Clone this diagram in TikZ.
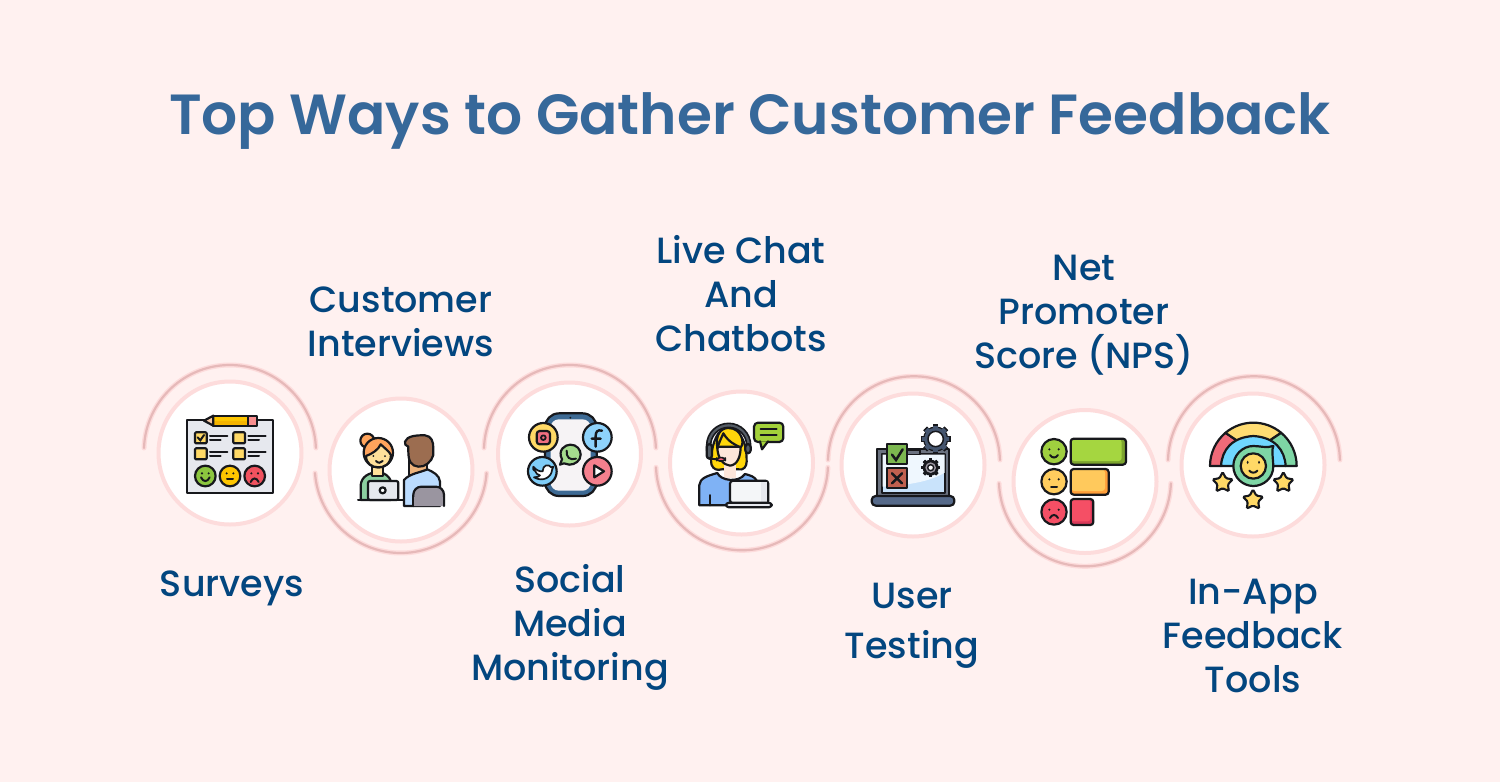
\documentclass[tikz,border=0pt]{standalone}
\usepackage{fontspec}
\setmainfont{Poppins Medium}
\newfontfamily\titlefont{Poppins SemiBold}
\usetikzlibrary{shapes.geometric}
\definecolor{bgc}{HTML}{FFF1F0}
\definecolor{titlec}{HTML}{36689A}
\definecolor{labelc}{HTML}{03467F}
\definecolor{ringc}{HTML}{FDDCDC}
\definecolor{arcc}{HTML}{E6B9B9}
\definecolor{ink}{HTML}{17181C}
\definecolor{E6}{HTML}{E6E8EE}
\definecolor{yel}{HTML}{FDC500}
\definecolor{yelD}{HTML}{F5B400}
\definecolor{yelL}{HTML}{FFD966}
\definecolor{pin}{HTML}{F98F8F}
\definecolor{skn}{HTML}{F6C9A8}
\definecolor{gre}{HTML}{8CC63F}
\definecolor{red}{HTML}{F0525F}
\definecolor{org}{HTML}{FFA45C}
\definecolor{teal}{HTML}{8CCFA0}
\definecolor{skn2}{HTML}{FFE09A}
\definecolor{sknM}{HTML}{EDB37C}
\definecolor{blu}{HTML}{BBDCFF}
\definecolor{bro}{HTML}{9C6D50}
\definecolor{gry}{HTML}{9A95A0}
\definecolor{phn}{HTML}{3D6A94}
\definecolor{scr}{HTML}{F6F3F5}
\definecolor{pnk2}{HTML}{F06F80}
\definecolor{sky}{HTML}{8ED2FB}
\definecolor{sky2}{HTML}{7FCDF8}
\definecolor{rd2}{HTML}{F5808E}
\definecolor{wag}{HTML}{A5DC8E}
\definecolor{hair}{HTML}{FFD60A}
\definecolor{fce}{HTML}{FDE6DA}
\definecolor{hset}{HTML}{555D66}
\definecolor{micc}{HTML}{F0607A}
\definecolor{blo}{HTML}{7FB2F5}
\definecolor{scr2}{HTML}{F4F6F8}
\definecolor{lim}{HTML}{A3D13A}
\definecolor{lap}{HTML}{6B7280}
\definecolor{scrb}{HTML}{C9E3FB}
\definecolor{navy}{HTML}{566A8A}
\definecolor{chk}{HTML}{7CB850}
\definecolor{xbx}{HTML}{C0604F}
\definecolor{nG}{HTML}{9FCF3F}
\definecolor{nG2}{HTML}{A5D640}
\definecolor{nGd}{HTML}{7DA52F}
\definecolor{nY}{HTML}{FFCD5E}
\definecolor{nY2}{HTML}{FFC95C}
\definecolor{nYd}{HTML}{FF9F3A}
\definecolor{nR}{HTML}{F54F65}
\definecolor{nRd}{HTML}{D93A5A}
\definecolor{rbR}{HTML}{F06A78}
\definecolor{rbY}{HTML}{FFDC72}
\definecolor{rbG}{HTML}{7ED6A5}
\definecolor{rbB}{HTML}{6FD6FF}
\tikzset{
 x=1pt,y=-1pt,
 disc/.style={circle,draw=ringc,line width=4pt,fill=white,minimum size=143pt,inner sep=0pt},
 lab/.style={font=\fontsize{36.5}{44}\selectfont,text=labelc,align=center,inner sep=0pt},
 zoomed/.style={x=0.33333pt,y=-0.33333pt},
 o/.style={draw=ink,line width=2.2pt,line join=round,line cap=round},
 l/.style={draw=ink,line width=2pt,line cap=round},
 starn/.style={star,star points=5,star point ratio=1.9,draw=ink,line width=2.1pt,fill=#1,minimum size=21pt,inner sep=0pt,rounded corners=1.2pt},
}
\newcommand{\archalo}[1]{\draw[ringc,line width=5pt,line cap=round] #1; \draw[arcc,line width=2.2pt,line cap=round] #1;}
\newcommand{\gearshape}[4]{% x y r fill
 \foreach \a in {0,45,...,315}{\fill[#4,rotate around={\a:(#1,#2)}] (#1-0.2*#3,#2-1.18*#3) rectangle (#1+0.2*#3,#2+1.18*#3);}
 \fill[#4] (#1,#2) circle[radius=#3];
}
\begin{document}
\begin{tikzpicture}
\useasboundingbox (0,0) rectangle (1500,782);
\fill[bgc] (0,0) rectangle (1500,782);
\node[font=\titlefont\fontsize{56.6}{60}\selectfont,text=titlec,inner sep=0pt] (title) at (750,121) {Top Ways to Gather Customer Feedback};
% arcs
\archalo{(144,448) arc[start angle=178,end angle=2,radius=86pt]}
\archalo{(315,473) arc[start angle=184,end angle=356,radius=86pt]}
\archalo{(484,448) arc[start angle=178,end angle=2,radius=86pt]}
\archalo{(656,467.3) arc[start angle=182,end angle=358,radius=86pt]}
\archalo{(828,460) arc[start angle=178.5,end angle=1.5,radius=86pt]}
\archalo{(999,483.3) arc[start angle=182,end angle=358,radius=86pt]}
\archalo{(1168,460) arc[start angle=178.5,end angle=1.5,radius=86pt]}
% discs
\node[disc] (d1) at (230,453) {};
\node[disc] (d2) at (401,470) {};
\node[disc] (d3) at (569.5,454) {};
\node[disc] (d4) at (741.5,463) {};
\node[disc] (d5) at (913,465) {};
\node[disc] (d6) at (1085,481.5) {};
\node[disc] (d7) at (1253,465) {};
% labels
\node[lab] (l1) at (232,588) {Surveys};
\node[lab] (l2) at (401,322) {Customer\\Interviews};
\node[lab] (l3) at (570,627) {Social\\Media\\Monitoring};
\node[lab] (l4) at (741,294) {Live Chat\\And\\Chatbots};
\node[lab,font=\fontsize{36.5}{50}\selectfont] (l5) at (912,626) {User\\Testing};
\node[lab] (l6) at (1084,315) {Net\\Promoter\\Score (NPS)};
\node[lab] (l7) at (1253,636) {In-App\\Feedback\\Tools};
% ---------- icon 1, icon 2
\begin{scope}[shift={(130,350)},zoomed]
 \draw[o,fill=E6] (172,210) rectangle (430,430);
 \draw[o,fill=yel] (250,197) rectangle (358,227);
 \fill[yelD] (250,213) rectangle (358,227);
 \draw[o] (250,197) -- (358,197) -- (358,227) -- (250,227);
 \draw[o,fill=pin] (355,197) -- (382,197) -- (382,227) -- (355,227) -- cycle;
 \draw[o,fill=skn] (250,197) -- (222,212) -- (250,227) -- cycle;
 \foreach \x/\y in {195/247,310/247,195/295,310/295}{
   \draw[o,fill=yelL,rounded corners=1pt] (\x,\y) rectangle (\x+35,\y+33);
   \draw[l] (\x+45,\y+10) -- (\x+97,\y+10);
   \draw[l] (\x+45,\y+24) -- (\x+77,\y+24);
 }
 \draw[l] (203,262) -- (211,271) -- (222,255);
 \draw[o,fill=gre] (226,378) circle[radius=31];
 \draw[o,fill=yel] (300,378) circle[radius=31];
 \draw[o,fill=red] (374,378) circle[radius=31];
 \fill[ink] (216,370) circle[radius=3.5] (236,370) circle[radius=3.5] (290,370) circle[radius=3.5] (310,370) circle[radius=3.5] (364,370) circle[radius=3.5] (384,370) circle[radius=3.5];
 \draw[l] (213,382) .. controls (220,397) and (232,397) .. (239,382);
 \draw[l] (291,388) -- (309,388);
 \draw[l] (362,396) .. controls (368,382) and (380,382) .. (386,396);
 % interview
 \draw[o,fill=org] (712,272) circle[radius=21];
 \draw[o,fill=teal] (692,450) -- (692,405) .. controls (695,380) and (715,368) .. (745,366) .. controls (765,368) and (778,380) .. (782,392) -- (782,450) -- cycle;
 \draw[o,fill=skn2] (727,350) rectangle (760,378);
 \draw[o,fill=org] (745,308) circle[radius=44];
 \draw[o,fill=skn2] (708,318) .. controls (725,312) and (745,300) .. (752,283) .. controls (765,295) and (778,305) .. (783,315) .. controls (782,345) and (760,352) .. (745,352) .. controls (725,352) and (708,340) .. (708,318) -- cycle;
 \fill[ink] (730,318) circle[radius=3] (765,318) circle[radius=3];
 \draw[l] (738,333) .. controls (745,340) and (752,340) .. (758,333);
 \draw[o,fill=E6,rounded corners=2pt] (714,393) rectangle (805,450);
 \draw[o,fill=white] (758,421) circle[radius=9];
 \draw[l] (684,451) -- (820,451);
 \draw[o,fill=sknM] (838,320) rectangle (892,375);
 \draw[o,fill=blu] (822,468) -- (822,390) .. controls (840,370) and (870,368) .. (892,358) .. controls (910,366) and (928,375) .. (930,395) -- (930,468) -- cycle;
 \draw[o,fill=bro] (825,275) .. controls (830,258) and (860,255) .. (885,256) .. controls (905,258) and (910,275) .. (910,295) -- (910,315) .. controls (905,335) and (885,352) .. (865,350) .. controls (845,348) and (835,335) .. (835,305) -- (835,290) .. controls (827,288) and (823,282) .. (825,275) -- cycle;
 \draw[o,fill=gry,rounded corners=8pt] (850,468) -- (850,410) -- (942,410) -- (942,468);
 \fill[gry] (852,440) rectangle (940,468);
\end{scope}
% ---------- icon 3, icon 4
\begin{scope}[shift={(480,350)},zoomed]
 \draw[o,fill=phn,rounded corners=14pt] (195,190) rectangle (350,438);
 \fill[scr,rounded corners=8pt] (212,208) rectangle (332,422);
 \fill[ink] (271,203) circle[radius=3];
 \draw[o,fill=yelL] (190,262) circle[radius=43];
 \draw[o,fill=pnk2,rounded corners=3pt] (170,243) rectangle (210,283);
 \draw[o,line width=1.8pt] (190,263) circle[radius=7];
 \draw[o,fill=sky] (352,262) circle[radius=43];
 \draw[ink,line width=2.4pt,line cap=round] (366,242) .. controls (352,238) and (347,246) .. (347,258) -- (347,290) (335,266) -- (362,266);
 \draw[o,fill=sky2] (187,364) circle[radius=43];
 \draw[o,fill=white,line width=1.7pt] (160,350) .. controls (170,362) and (180,365) .. (188,364) .. controls (188,345) and (205,340) .. (214,352) -- (220,350) -- (216,360) .. controls (215,380) and (190,398) .. (162,382) .. controls (172,382) and (176,380) .. (180,376) .. controls (172,374) and (168,370) .. (166,364) .. controls (160,362) and (158,356) .. (160,350) -- cycle;
 \draw[o,fill=rd2] (352,364) circle[radius=43];
 \draw[o,fill=white] (343,346) -- (372,364) -- (343,382) -- cycle;
 \draw[o,fill=wag] (240,344) -- (246,328) .. controls (232,300) and (255,284) .. (271,284) .. controls (290,284) and (302,298) .. (302,314) .. controls (302,332) and (285,344) .. (268,344) .. controls (262,344) and (258,340) .. (252,340) -- cycle;
 \draw[l] (260,302) .. controls (258,322) and (270,332) .. (288,326);
 % agent
 \draw[o,fill=hair] (715,250) .. controls (695,280) and (690,330) .. (695,345) .. controls (700,358) and (712,362) .. (725,358) -- (775,358) .. controls (790,362) and (800,350) .. (800,335) .. controls (800,300) and (795,270) .. (775,250) -- cycle;
 \fill[fce] (733,335) rectangle (767,385);
 \draw[o,fill=blo] (658,466) -- (658,405) .. controls (660,385) and (680,378) .. (712,369) .. controls (722,392) and (775,400) .. (795,372) .. controls (810,376) and (825,380) .. (830,392) -- (830,466) -- cycle;
 \draw[l] (690,466) -- (690,435);
 \draw[o,fill=fce] (712,290) .. controls (712,325) and (730,345) .. (750,347) .. controls (772,345) and (782,320) .. (782,290) -- cycle;
 \draw[o,fill=hair] (712,295) .. controls (718,275) and (725,262) .. (730,250) .. controls (745,275) and (765,285) .. (782,292) .. controls (795,280) and (785,234) .. (745,234) .. controls (722,234) and (705,255) .. (712,295) -- cycle;
 \draw[draw=ink,fill=hset,line width=1.6pt] (680,286) arc[start angle=180,end angle=0,radius=22pt] -- (812,300) -- (800,300) -- (800,286) arc[start angle=0,end angle=180,radius=18pt] -- (692,300) -- (680,300) -- cycle;
 \draw[o,fill=hset,rounded corners=3pt] (680,282) rectangle (696,326);
 \draw[o,fill=hset,rounded corners=3pt] (796,282) rectangle (812,310);
 \draw[l] (690,326) -- (712,328);
 \draw[o,fill=micc,rounded corners=3pt,line width=1.6pt] (710,323) rectangle (736,333);
 \draw[o,fill=scr2,rounded corners=3pt] (750,392) rectangle (865,460);
 \fill[E6] (843,395) rectangle (862,457);
 \draw[o,fill=E6,rounded corners=3pt] (738,458) rectangle (875,472);
 \draw[o,fill=lim,rounded corners=4pt] (822,218) rectangle (910,276);
 \draw[o,fill=lim] (840,274) -- (846,298) -- (864,274);
 \fill[lim] (842,268) rectangle (862,273);
 \draw[l] (842,238) -- (890,238);
 \draw[l] (842,256) -- (890,256);
\end{scope}
% ---------- icon 5, icon 6
\begin{scope}[shift={(820,360)},zoomed]
 \draw[o,fill=lap] (172,268) rectangle (388,408);
 \draw[o,fill=scrb] (186,282) rectangle (376,398);
 \fill[white!70!scrb] (188,284) -- (374,284) -- (374,338) .. controls (320,370) and (250,375) .. (188,380) -- cycle;
 \draw[o,fill=lap,line width=1.2pt] (260,270) rectangle (300,283);
 \draw[o,fill=navy,rounded corners=4pt] (155,408) rectangle (403,437);
 \draw[o,fill=chk] (200,252) rectangle (262,312);
 \draw[ink,line width=2.5pt,line cap=round] (216,284) -- (228,300) -- (248,268);
 \draw[o,fill=xbx] (200,325) rectangle (262,385);
 \draw[ink,line width=2.5pt,line cap=round] (216,340) -- (246,370) (246,340) -- (216,370);
 \gearshape{347}{237}{38}{ink}
 \gearshape{347}{237}{34}{navy!80!black}
 \fill[white] (347,237) circle[radius=23];
 \draw[o,line width=1.5pt] (347,237) circle[radius=23];
 \gearshape{332}{323}{24}{ink}
 \fill[gry] (332,323) circle[radius=16];
 \draw[o,fill=white,line width=1.4pt] (332,323) circle[radius=9];
 % NPS
 \draw[o,fill=nG] (702,275) circle[radius=38];
 \draw[o,fill=nY] (702,365) circle[radius=38];
 \draw[o,fill=nR] (702,456) circle[radius=38];
 \fill[ink] (688,268) circle[radius=3.5] (716,268) circle[radius=3.5] (688,358) circle[radius=3.5] (716,358) circle[radius=3.5] (688,449) circle[radius=3.5] (716,449) circle[radius=3.5];
 \draw[l] (690,285) .. controls (696,295) and (708,295) .. (714,285);
 \draw[l] (693,381) -- (711,381);
 \draw[l] (690,474) .. controls (696,462) and (708,462) .. (714,474);
 \fill[nGd,rounded corners=3pt] (752,236) rectangle (918,314);
 \fill[nG2,rounded corners=3pt] (754,238) rectangle (905,303);
 \draw[o,rounded corners=3pt] (752,236) rectangle (918,314);
 \fill[nYd,rounded corners=3pt] (752,327) rectangle (866,404);
 \fill[nY2,rounded corners=3pt] (754,329) rectangle (855,393);
 \draw[o,rounded corners=3pt] (752,327) rectangle (866,404);
 \fill[nRd,rounded corners=3pt] (752,417) rectangle (820,495);
 \fill[nR,rounded corners=3pt] (754,419) rectangle (812,484);
 \draw[o,rounded corners=3pt] (752,417) rectangle (820,495);
\end{scope}
% ---------- icon 7
\begin{scope}[shift={(1160,360)},zoomed]
 \draw[o,fill=rbR] (150,318) arc[start angle=180,end angle=130,radius=43.33pt] -- (236,245) -- (183,318) -- cycle;
 \draw[o,fill=rbY] (196.4,218.4) arc[start angle=130,end angle=50,radius=43.33pt] -- (324,245) .. controls (296,232) and (264,232) .. (236,245) -- cycle;
 \draw[o,fill=rbG] (410,318) arc[start angle=0,end angle=50,radius=43.33pt] -- (324,245) -- (377,318) -- cycle;
 \draw[o,fill=rbB] (183,318) .. controls (186,270) and (215,232) .. (280,228) .. controls (345,232) and (374,270) .. (377,318) -- cycle;
 \draw[o,fill=rbG] (340,258) .. controls (335,270) and (338,285) .. (340,318) .. controls (340,355) and (310,378) .. (280,378) .. controls (248,378) and (220,352) .. (220,318) .. controls (220,285) and (248,258) .. (280,258) .. controls (300,258) and (320,265) .. (340,258) -- cycle;
 \draw[o,fill=yelL] (280,318) circle[radius=38];
 \fill[ink] (263,307) ellipse[x radius=3,y radius=5] (297,307) ellipse[x radius=3,y radius=5];
 \draw[l] (268,332) .. controls (274,340) and (286,340) .. (292,332);
 \node[starn=yelL] (s1) at (188,368) {};
 \node[starn=yelL] (s2) at (370,368) {};
 \node[starn=yelL] (s3) at (279,420) {};
\end{scope}
\end{tikzpicture}
\end{document}
